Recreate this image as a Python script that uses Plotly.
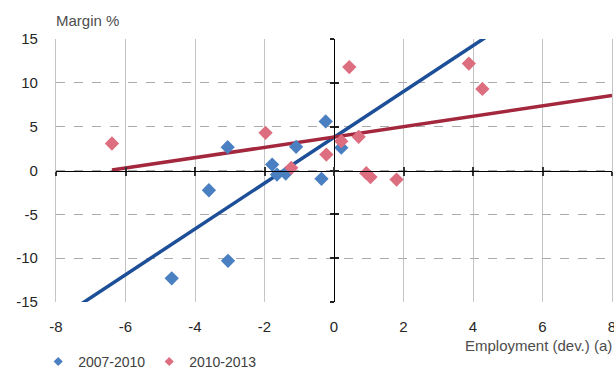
import numpy as np
import plotly.graph_objects as go

# Employment deviation (x) vs. margin % (y), two periods
emp_0710 = [-4.67, -3.60, -3.06, -3.05, -1.78, -1.64, -1.39, -1.09, -0.36, -0.24, 0.21]
mar_0710 = [-12.3, -2.25, 2.66, -10.3, 0.68, -0.46, -0.34, 2.70, -0.95, 5.60, 2.60]

emp_1013 = [-6.39, -1.97, -1.23, -0.22, 0.21, 0.44, 0.71, 0.93, 1.05, 1.80, 3.88, 4.27]
mar_1013 = [3.08, 4.30, 0.31, 1.82, 3.34, 11.8, 3.84, -0.30, -0.75, -1.03, 12.2, 9.30]

x_ticks = [-8, -6, -4, -2, 0, 2, 4, 6, 8]
y_ticks = [-15, -10, -5, 0, 5, 10, 15]

BLUE_PT = "#4a7fc1"
BLUE_LN = "#1d4f98"
RED_PT = "#dd6e80"
RED_LN = "#a3283e"
FONT = "Liberation Sans"

# least-squares trend lines for each period
b_slope, b_int = np.polyfit(emp_0710, mar_0710, 1)
r_slope, r_int = np.polyfit(emp_1013, mar_1013, 1)
b_x = np.array([-8.0, 8.0])
r_x = np.array([min(emp_1013), 8.0])

fig = go.Figure()

fig.add_trace(go.Scatter(x=b_x, y=b_slope * b_x + b_int, mode="lines",
                         line=dict(color=BLUE_LN, width=3.5), showlegend=False,
                         hoverinfo="skip"))
fig.add_trace(go.Scatter(x=r_x, y=r_slope * r_x + r_int, mode="lines",
                         line=dict(color=RED_LN, width=3.5), showlegend=False,
                         hoverinfo="skip"))

fig.add_trace(go.Scatter(x=emp_0710, y=mar_0710, mode="markers", name="2007-2010",
                         marker=dict(symbol="diamond", size=11, color=BLUE_PT),
                         showlegend=False))
fig.add_trace(go.Scatter(x=emp_1013, y=mar_1013, mode="markers", name="2010-2013",
                         marker=dict(symbol="diamond", size=11, color=RED_PT),
                         showlegend=False))

# legend entries with smaller symbols
fig.add_trace(go.Scatter(x=[None], y=[None], mode="markers", name="2007-2010",
                         marker=dict(symbol="diamond", size=7, color=BLUE_PT)))
fig.add_trace(go.Scatter(x=[None], y=[None], mode="markers", name="2010-2013",
                         marker=dict(symbol="diamond", size=7, color=RED_PT)))

# helper traces so the crossing axes at zero get drawn
for xa, ya in [("x2", "y"), ("x3", "y"), ("x", "y2"), ("x", "y3")]:
    fig.add_trace(go.Scatter(x=[None], y=[None], xaxis=xa, yaxis=ya,
                             showlegend=False, hoverinfo="skip"))

tick_font = dict(family=FONT, size=15, color="#262626")

fig.update_layout(
    width=614, height=370,
    margin=dict(l=56, r=2, t=39, b=68, autoexpand=False),
    paper_bgcolor="white", plot_bgcolor="white",
    font=dict(family=FONT),
    xaxis=dict(range=[-8, 8], tickvals=x_ticks, ticktext=[str(v) for v in x_ticks],
               showgrid=True, gridcolor="#c4c4c4", gridwidth=1.3,
               zeroline=False, showline=False, ticks="",
               tickfont=tick_font, ticklabelstandoff=14, ticklabeloverflow="allow"),
    yaxis=dict(range=[-15, 15], tickvals=y_ticks, ticktext=[str(v) for v in y_ticks],
               showgrid=True, gridcolor="#ababab", gridwidth=1, griddash="dash",
               zeroline=False, showline=True, mirror=True, linecolor="#c4c4c4",
               linewidth=1.3, ticks="",
               tickfont=tick_font, ticklabelstandoff=14, ticklabeloverflow="allow"),
    # horizontal axis crossing at margin 0
    xaxis2=dict(overlaying="x", anchor="free", position=0.5, range=[-8, 8],
                tickvals=x_ticks, showticklabels=False, showgrid=False, zeroline=False,
                showline=True, linecolor="black", linewidth=1.3,
                ticks="outside", ticklen=4, tickcolor="#333333", tickwidth=1.5),
    xaxis3=dict(overlaying="x", anchor="free", position=0.5, range=[-8, 8],
                tickvals=x_ticks, showticklabels=False, showgrid=False, zeroline=False,
                showline=False, ticks="inside", ticklen=4, tickcolor="#333333",
                tickwidth=1.5),
    # vertical axis crossing at employment 0
    yaxis2=dict(overlaying="y", anchor="free", position=0.5, range=[-15, 15],
                tickvals=y_ticks, showticklabels=False, showgrid=False, zeroline=False,
                showline=True, linecolor="black", linewidth=1.3,
                ticks="outside", ticklen=4, tickcolor="#222222", tickwidth=1.5),
    yaxis3=dict(overlaying="y", anchor="free", position=0.5, range=[-15, 15],
                tickvals=y_ticks, showticklabels=False, showgrid=False, zeroline=False,
                showline=False, ticks="inside", ticklen=4, tickcolor="#222222",
                tickwidth=1.5),
    legend=dict(orientation="h", x=-0.032, xanchor="left", y=-0.228, yanchor="middle",
                font=dict(family=FONT, size=14, color="#404040"),
                entrywidth=66, entrywidthmode="pixels",
                tracegroupgap=0, bgcolor="rgba(0,0,0,0)"),
    annotations=[
        dict(text="Margin %", xref="paper", yref="paper", x=-0.004, y=1.072,
             xanchor="left", yanchor="middle", showarrow=False,
             font=dict(family=FONT, size=15, color="#4d4d4d")),
        dict(text="Employment (dev.) (a)", xref="paper", yref="paper", x=1.0036,
             y=-0.167, xanchor="right", yanchor="middle", showarrow=False,
             font=dict(family=FONT, size=15, color="#4d4d4d")),
    ],
)

fig.write_html("out.html")
